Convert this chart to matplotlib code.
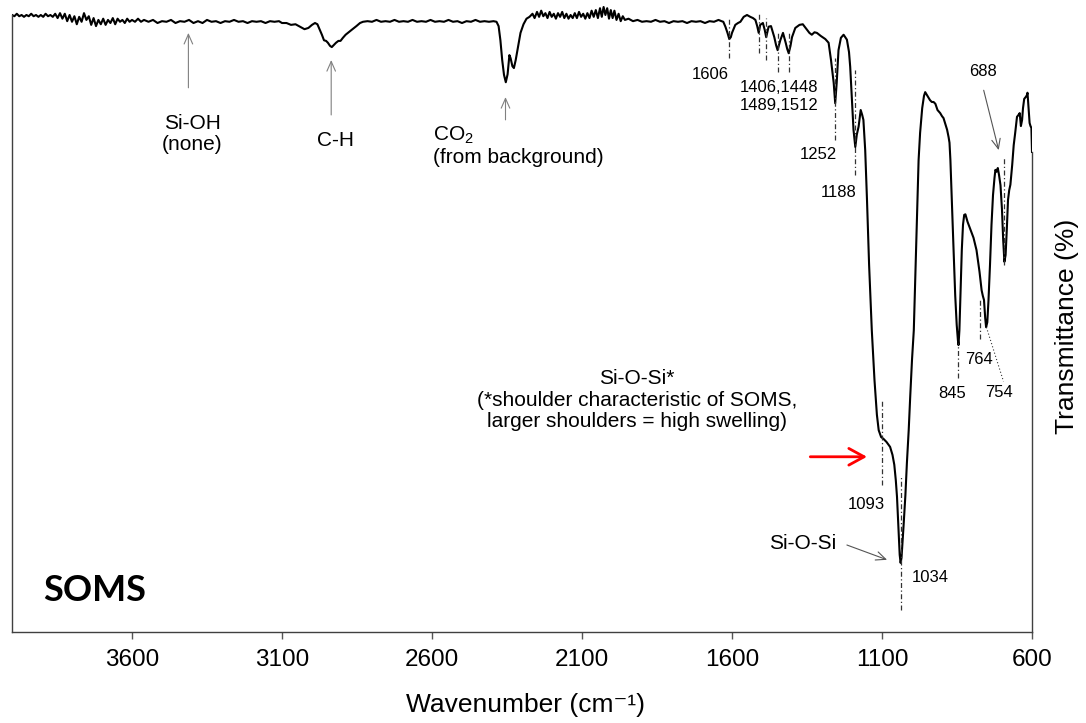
import matplotlib
matplotlib.use("Agg")
import matplotlib.pyplot as plt

plt.rcParams['font.family'] = ['Liberation Sans', 'DejaVu Sans']
plt.rcParams['mathtext.fontset'] = 'custom'
plt.rcParams['mathtext.rm'] = 'Liberation Sans'
plt.rcParams['mathtext.it'] = 'Liberation Sans:italic'

# ---------------- spectrum (wavenumber cm-1, transmittance %) ----------------
wavenumber = [
    4000, 3992, 3984, 3976, 3968, 3960, 3952, 3944, 3936, 3928, 3920, 3912, 3904, 3896,
    3888, 3880, 3872, 3864, 3856, 3848, 3840, 3832, 3824, 3816, 3808, 3800, 3792, 3784,
    3776, 3768, 3760, 3752, 3744, 3736, 3728, 3720, 3712, 3704, 3696, 3688, 3680, 3672,
    3664, 3656, 3648, 3640, 3632, 3624, 3616, 3608, 3600, 3590, 3580, 3570, 3560,
    3545, 3530, 3515, 3500, 3485, 3470, 3455, 3440, 3425, 3410, 3395, 3380, 3365, 3350,
    3335, 3320, 3305, 3290, 3275, 3260, 3245, 3230, 3215, 3200, 3185, 3170, 3155, 3140,
    3125, 3110, 3100,
    3085, 3070, 3055, 3040, 3025, 3012, 3000, 2990, 2982, 2975, 2967, 2960, 2953, 2947,
    2940, 2934, 2928, 2920, 2912, 2905, 2897, 2888, 2878, 2865, 2852, 2840, 2830,
    2815, 2800, 2785, 2770, 2755, 2740, 2725, 2710, 2695, 2680, 2665, 2650, 2635, 2620,
    2605, 2590, 2575, 2560, 2545, 2530, 2515, 2500, 2485, 2470, 2455, 2440, 2425, 2410,
    2395, 2385,
    2378, 2372, 2366, 2360, 2354, 2348, 2342, 2338, 2332, 2327, 2321, 2314, 2305, 2295,
    2285, 2275,
    2265, 2258, 2250, 2243, 2236, 2229, 2222, 2215, 2208, 2201, 2194, 2187, 2180, 2173,
    2166, 2159, 2152, 2145, 2138, 2131, 2124, 2117, 2110, 2103, 2096, 2089, 2082, 2075,
    2068, 2061, 2054, 2047, 2040, 2034, 2028, 2022, 2016, 2010, 2004, 1998, 1992, 1985,
    1978, 1971, 1964, 1957,
    1945, 1930, 1915, 1900, 1885, 1870, 1855, 1840, 1825, 1810, 1795, 1780, 1765, 1750,
    1735, 1720, 1705, 1690, 1675, 1660, 1645, 1635,
    1629, 1622, 1615, 1609, 1604, 1600, 1589, 1580, 1572, 1561, 1550, 1539, 1530, 1522,
    1516, 1511, 1506, 1497, 1491, 1486, 1478, 1470, 1459, 1453, 1448, 1439, 1430, 1421,
    1416, 1411, 1405, 1400, 1389, 1375, 1364, 1350, 1342, 1334, 1325, 1317, 1304, 1289,
    1278, 1270, 1261, 1256, 1251, 1245, 1237, 1228, 1217, 1210, 1206, 1200, 1195, 1189,
    1184, 1178, 1171, 1166, 1162, 1156, 1150, 1143, 1137, 1134, 1125, 1117, 1111, 1103,
    1095, 1085, 1073, 1065, 1059, 1054, 1050, 1045, 1041, 1038, 1035, 1031, 1028, 1022,
    1017, 1011, 1006, 1000, 994, 986, 978, 973, 966, 960, 956, 950, 945, 940, 934, 928,
    922, 915, 906, 900, 895, 888, 883, 878, 875, 872, 868, 862, 856, 851, 847, 845, 842,
    838, 834, 830, 826, 822, 815, 805, 795, 785, 775, 768, 764, 760, 756, 753, 749, 745,
    740, 735, 730, 725, 722, 718, 714, 710, 705, 700, 696, 692, 688, 684, 680, 676, 672,
    666, 661, 656, 650, 645, 641, 637, 633, 630, 626, 621, 617, 615, 611, 608, 605, 602,
    600,
]
transmittance = [
    100.0, 99.8, 100.2, 99.8, 100.0, 99.7, 100.0, 99.8, 100.2, 99.8, 100.0, 99.7, 100.0, 99.7,
    100.2, 99.8, 100.0, 99.7, 100.2, 99.5, 100.3, 99.4, 100.2, 99.0, 100.0, 98.9, 99.8, 98.5,
    99.7, 98.9, 100.3, 99.2, 99.8, 98.4, 99.5, 98.2, 99.2, 98.5, 99.4, 98.4, 99.2, 98.7,
    99.5, 98.5, 99.4, 98.9, 99.2, 98.7, 99.4, 98.9, 99.2, 98.9, 99.4, 98.9, 99.2,
    98.9, 99.2, 98.7, 99.0, 98.9, 99.2, 98.7, 99.0, 98.9, 99.2, 98.7, 99.0, 98.7, 99.2,
    98.9, 99.0, 98.7, 99.0, 98.9, 99.2, 98.9, 99.0, 98.7, 99.0, 98.9, 99.0, 98.7, 99.0,
    98.9, 99.0, 98.7,
    98.7, 98.4, 98.5, 98.1, 97.7, 97.9, 98.4, 98.7, 98.5, 97.7, 96.8, 95.9, 95.8, 95.5,
    95.0, 94.8, 95.1, 95.5, 95.8, 95.8, 96.3, 96.8, 97.2, 97.7, 98.2, 98.7, 98.9,
    99.0, 98.9, 99.2, 98.9, 99.0, 98.9, 99.2, 98.9, 99.0, 98.9, 99.2, 98.9, 99.0, 98.9,
    99.2, 98.9, 99.0, 98.9, 99.2, 98.9, 99.0, 98.7, 99.0, 98.9, 99.2, 98.9, 99.0, 98.9,
    99.0, 98.9,
    98.2, 95.9, 92.7, 90.3, 89.1, 90.4, 93.5, 93.0, 91.7, 91.4, 92.7, 94.6, 97.1, 98.5,
    99.4, 99.7,
    100.2, 99.5, 100.5, 99.7, 100.7, 99.8, 100.3, 99.5, 100.5, 99.7, 100.2, 99.4, 100.3, 99.7,
    100.5, 99.5, 100.2, 99.4, 100.0, 99.5, 100.3, 99.5, 100.5, 99.7, 100.2, 99.4, 100.3, 99.5,
    100.7, 99.7, 100.8, 99.5, 101.1, 99.7, 101.3, 100.0, 101.1, 99.4, 100.8, 99.5, 100.7, 99.2,
    100.2, 99.0, 99.8, 99.2,
    99.4, 99.0, 99.2, 98.9, 99.0, 98.9, 99.2, 98.9, 99.0, 98.7, 99.0, 98.9, 99.0, 98.7,
    99.0, 98.9, 99.0, 98.7, 99.0, 98.9, 99.2, 99.0,
    98.9, 98.1, 97.1, 96.1, 96.4, 97.1, 98.4, 98.7, 98.9, 99.7, 100.0, 99.7, 99.5, 99.2,
    98.2, 97.1, 98.4, 98.7, 97.6, 96.4, 98.1, 98.2, 96.4, 95.1, 94.3, 95.9, 97.1, 95.5,
    94.5, 93.8, 95.0, 96.4, 97.9, 98.4, 98.5, 97.6, 97.1, 96.8, 97.2, 97.1, 96.6, 96.1,
    95.5, 92.7, 89.0, 85.7, 89.0, 94.3, 96.3, 96.8, 96.0, 94.0, 91.6, 86.2, 81.4, 78.6,
    80.6, 81.9, 84.6, 83.8, 83.0, 78.1, 70.0, 59.5, 52.2, 48.9, 40.8, 35.2, 32.7, 31.6,
    31.3, 30.8, 30.0, 28.7, 27.1, 24.6, 21.9, 16.5, 12.5, 11.2, 12.0, 14.9, 17.3, 22.2,
    27.4, 32.7, 38.1, 44.1, 48.9, 62.7, 76.5, 80.9, 84.9, 86.9, 87.5, 87.0, 86.6, 86.2, 85.9, 85.9,
    85.6, 84.6, 84.1, 83.6, 83.3, 82.2, 81.4, 80.2, 79.3, 76.5, 70.8, 62.7, 54.6, 49.8, 47.3, 46.5, 48.9,
    55.4, 61.9, 66.0, 67.6, 67.7, 66.5, 65.2, 63.9, 61.9, 58.4, 55.4, 54.5, 53.8, 50.9, 49.4, 50.2, 53.8,
    59.5, 66.0, 70.8, 73.6, 74.9, 74.6, 75.2, 74.1, 72.4, 68.4, 63.5, 60.0, 61.1, 65.2, 70.0, 71.6, 72.5,
    75.7, 78.9, 80.9, 83.5, 83.8, 84.1, 82.0, 83.0, 84.9, 86.4, 86.7, 87.0, 87.4, 84.6, 82.5, 82.0, 81.7,
    77.8,
]

# ---------------- peak marker lines (dash-dot) ----------------
peak_wn = [1609, 1511, 1486, 1448, 1411, 1257, 1191, 1101, 1038, 845, 773, 692]
peak_lo = [93.0, 93.8, 92.7, 90.8, 90.8, 79.7, 74.1, 23.8, 3.6, 41.2, 47.5, 59.5]
peak_hi = [99.5, 100.2, 99.5, 97.2, 97.2, 93.0, 91.1, 37.6, 25.4, 46.8, 53.8, 77.0]
leader_754_wn = [752, 695]
leader_754_t = [49.4, 40.6]

# ---------------- peak number labels ----------------
num_labels = ["1606", "1406,1448\n1489,1512", "1252", "1188", "688",
              "1093", "1034", "845", "764", "754"]
num_wn = [1672, 1442, 1311, 1245, 763, 1152, 939, 865, 777, 711]
num_t = [90.4, 86.8, 77.4, 71.2, 90.9, 20.6, 8.9, 38.7, 44.1, 38.8]

fig = plt.figure(figsize=(10.86, 7.23), dpi=100)
ax = fig.add_axes([12 / 1086, 1 - 632 / 723, 1020 / 1086, 632 / 723])

ax.plot(wavenumber, transmittance, color='black', lw=1.5, solid_joinstyle='round')

ax.set_xlim(4000, 600)
ax.set_ylim(0, 102.43)
ax.set_xticks([3600, 3100, 2600, 2100, 1600, 1100, 600])
ax.set_yticks([])
ax.tick_params(axis='x', direction='out', length=5, width=1, color='#555555',
               labelsize=17.5, pad=7)
ax.spines['top'].set_visible(False)
ax.spines['left'].set_bounds(0, 100)
ax.spines['right'].set_bounds(0, transmittance[-1])
for s in ['left', 'bottom', 'right']:
    ax.spines[s].set_color('#404040')
    ax.spines[s].set_linewidth(1.0)

dash = (0, (4, 2, 1, 2))
for w, lo, hi in zip(peak_wn, peak_lo, peak_hi):
    ax.plot([w, w], [lo, hi], color='#333333', lw=0.9, ls=dash)
ax.plot(leader_754_wn, leader_754_t, color='#333333', lw=0.8, ls=(0, (1, 2)))

for t, w, v in zip(num_labels, num_wn, num_t):
    ax.text(w, v, t, fontsize=12, ha='center', va='center', linespacing=1.2)

# ---------------- band annotations ----------------
gray_arrow = dict(arrowstyle='->,head_length=0.5,head_width=0.22', color='#808080',
                  lw=0.8, shrinkA=0, shrinkB=0, mutation_scale=14)
ax.annotate('', xy=(3412, 97.1), xytext=(3412, 88.2), arrowprops=gray_arrow)
ax.annotate('', xy=(2936, 92.7), xytext=(2936, 83.8), arrowprops=gray_arrow)
ax.annotate('', xy=(2355, 86.7), xytext=(2355, 83.0), arrowprops=gray_arrow)
dark_arrow = dict(arrowstyle='->,head_length=0.5,head_width=0.22', color='#555555',
                  lw=0.8, shrinkA=0, shrinkB=0, mutation_scale=14)
ax.annotate('', xy=(711, 78.1), xytext=(761, 87.8), arrowprops=dark_arrow)
ax.annotate('', xy=(1083, 11.7), xytext=(1217, 14.1), arrowprops=dark_arrow)
ax.annotate('', xy=(1150, 28.4), xytext=(1339, 28.4),
            arrowprops=dict(arrowstyle='->,head_length=0.55,head_width=0.3', color='#ff0000',
                            lw=2.0, shrinkA=0, shrinkB=0, mutation_scale=20))

ax.text(3399, 80.7, 'Si-OH\n(none)', fontsize=15, ha='center', va='center', linespacing=1.15)
ax.text(2922, 79.7, 'C-H', fontsize=15, ha='center', va='center')
ax.text(2596, 78.8, 'CO$_{\\mathrm{2}}$\n(from background)', fontsize=15, ha='left',
        va='center', linespacing=1.15)
ax.text(1916, 37.6, 'Si-O-Si*\n(*shoulder characteristic of SOMS,\nlarger shoulders = high swelling)',
        fontsize=15, ha='center', va='center', linespacing=1.15)
ax.text(1363, 14.4, 'Si-O-Si', fontsize=15, ha='center', va='center')
ax.text(3896, 6.8, 'SOMS', fontsize=26, fontweight='bold', family=['Lato', 'DejaVu Sans'],
        ha='left', va='center')

fig.text(526 / 1086, 1 - 705 / 723, 'Wavenumber (cm\u207b\u00b9)', fontsize=19,
         ha='center', va='center', family=['Liberation Sans', 'DejaVu Sans'])
fig.text(1067 / 1086, 1 - 326 / 723, 'Transmittance (%)', fontsize=19, rotation=90,
         ha='center', va='center')

fig.savefig('out.png', dpi=100)
